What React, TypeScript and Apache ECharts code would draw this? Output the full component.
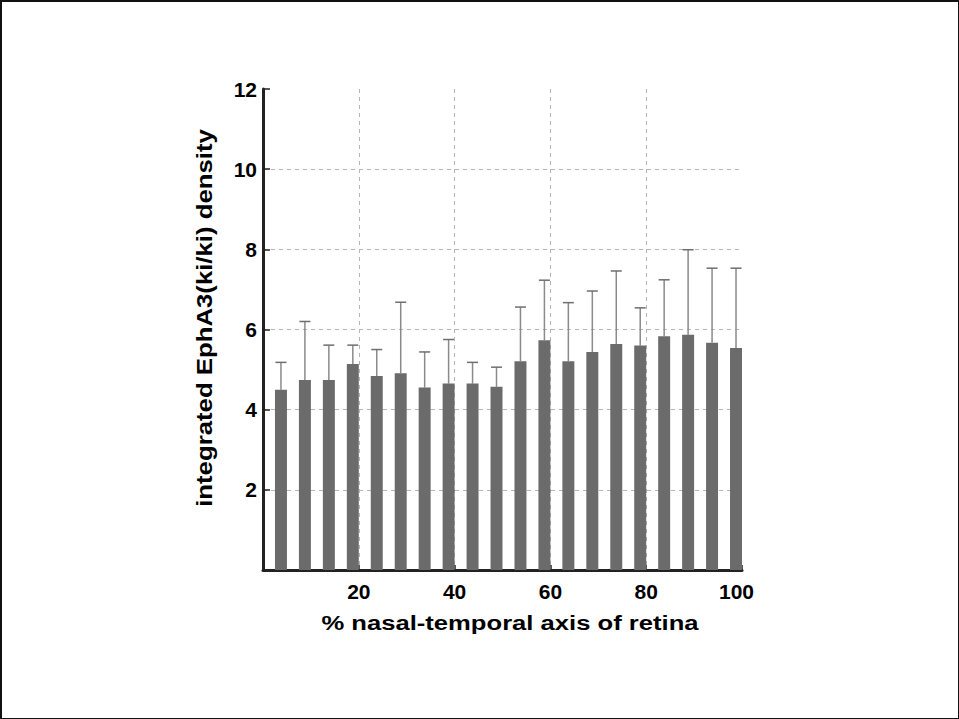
import React, { useEffect, useRef } from "react";
import * as echarts from "echarts";

// bin right edges along the nasal-temporal axis (%)
const binEdges = [5, 10, 15, 20, 25, 30, 35, 40, 45, 50, 55, 60, 65, 70, 75, 80, 85, 90, 95, 100];
// mean integrated EphA3(ki/ki) density per bin
const means = [4.5, 4.74, 4.74, 5.14, 4.84, 4.91, 4.55, 4.65, 4.65, 4.57, 5.21, 5.73, 5.21, 5.44, 5.64, 5.6, 5.83, 5.87, 5.67, 5.54];
// upward error (SD) per bin
const errors = [0.68, 1.46, 0.87, 0.47, 0.66, 1.77, 0.89, 1.1, 0.53, 0.49, 1.35, 1.5, 1.46, 1.52, 1.82, 0.94, 1.41, 2.12, 1.86, 1.99];
const xTicks = [0, 20, 40, 60, 80, 100];
const yTicks = [0, 2, 4, 6, 8, 10, 12];

const FONT = '"Liberation Sans", Arial, Helvetica, sans-serif';

export default function App() {
  const ref = useRef<HTMLDivElement>(null);
  useEffect(() => {
    if (!ref.current) return;
    const chart = echarts.init(ref.current, null, { renderer: "svg" });
    const data = binEdges.map((e, i) => [e, means[i], errors[i]]);
    const binWidth = 2.5;
    chart.setOption({
      animation: false,
      backgroundColor: "#ffffff",
      grid: { left: 261, right: 216, top: 87, bottom: 148, containLabel: false },
      xAxis: {
        type: "value",
        min: xTicks[0],
        max: xTicks[xTicks.length - 1],
        interval: 20,
        axisLine: { show: true, onZero: false, lineStyle: { color: "#222", width: 3 } },
        axisTick: { show: true, inside: true, length: 5, lineStyle: { color: "#222", width: 1.5 } },
        axisLabel: {
          showMinLabel: false,
          margin: 11,
          color: "#000",
          fontFamily: FONT,
          fontWeight: "bold",
          fontSize: 21,
          formatter: (v: number) => (v === 100 ? "{last|100}" : String(v)),
          rich: { last: { padding: [0, 11, 0, 0], color: "#000", fontFamily: FONT, fontWeight: "bold", fontSize: 21 } },
        },
        splitLine: {
          show: true,
          showMinLine: false,
          showMaxLine: false,
          lineStyle: { color: "#b5b5b5", type: [4, 4], width: 1 },
        },
      },
      yAxis: {
        type: "value",
        min: yTicks[0],
        max: yTicks[yTicks.length - 1],
        interval: 2,
        axisLine: { show: true, onZero: false, lineStyle: { color: "#222", width: 3 } },
        axisTick: { show: true, inside: true, length: 7, lineStyle: { color: "#222", width: 1.5 } },
        axisLabel: {
          showMinLabel: false,
          margin: 6,
          color: "#000",
          fontFamily: FONT,
          fontWeight: "bold",
          fontSize: 21,
        },
        splitLine: {
          show: true,
          showMinLine: false,
          showMaxLine: false,
          lineStyle: { color: "#b5b5b5", type: [4, 4], width: 1 },
        },
      },
      series: [
        {
          type: "custom",
          data,
          encode: { x: 0, y: 1 },
          clip: false,
          renderItem: (params: any, api: any) => {
            const xr = api.value(0);
            const m = api.value(1);
            const err = api.value(2);
            const p0 = api.coord([xr - binWidth, 0]);
            const p1 = api.coord([xr, m]);
            const top = api.coord([xr - binWidth / 2, m + err]);
            const cx = (p0[0] + p1[0]) / 2;
            const capHalf = 5.5;
            return {
              type: "group",
              children: [
                {
                  type: "line",
                  shape: { x1: cx, y1: p1[1], x2: cx, y2: top[1] },
                  style: { stroke: "#8a8a8a", lineWidth: 1.5 },
                },
                {
                  type: "line",
                  shape: { x1: cx - capHalf, y1: top[1], x2: cx + capHalf, y2: top[1] },
                  style: { stroke: "#6e6e6e", lineWidth: 1.5 },
                },
                {
                  type: "rect",
                  shape: { x: p0[0], y: p1[1], width: p1[0] - p0[0], height: p0[1] - p1[1] },
                  style: { fill: "#6b6b6b" },
                },
              ],
            };
          },
        },
      ],
      graphic: [
        {
          type: "text",
          x: 508,
          y: 621,
          scaleX: 1.22,
          style: {
            text: "% nasal-temporal axis of retina",
            font: `bold 21px ${FONT}`,
            textAlign: "center",
            textVerticalAlign: "middle",
            fill: "#000",
          },
        },
        {
          type: "text",
          x: 202,
          y: 316,
          rotation: Math.PI / 2,
          scaleX: 1.12,
          style: {
            text: "integrated EphA3(ki/ki) density",
            font: `bold 23px ${FONT}`,
            textAlign: "center",
            textVerticalAlign: "middle",
            fill: "#000",
          },
        },
      ],
    });
    return () => chart.dispose();
  }, []);
  return (
    <div
      ref={ref}
      style={{
        position: "absolute",
        left: 0,
        top: 0,
        width: 959,
        height: 719,
        boxSizing: "border-box",
        borderStyle: "solid",
        borderColor: "#111",
        borderWidth: "2px 1px 1px 2px",
        background: "#fff",
      }}
    />
  );
}
